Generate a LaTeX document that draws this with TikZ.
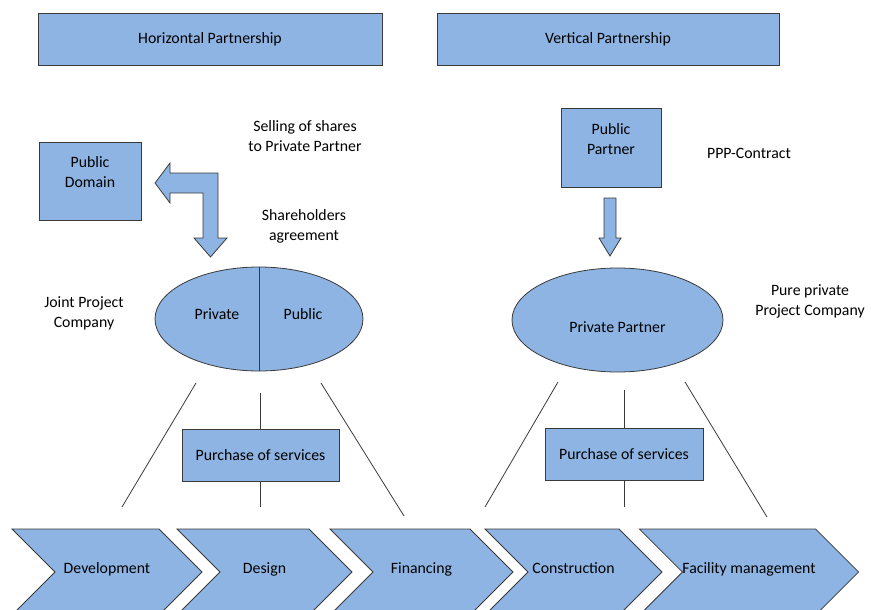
\documentclass[tikz,border=0pt]{standalone}
\usepackage{fontspec}
\setmainfont{Carlito}
\usepackage{tikz}
\usetikzlibrary{shapes.geometric,shapes.symbols}
\definecolor{boxblue}{HTML}{8DB4E2}
\definecolor{edgegray}{HTML}{3A3A3A}

\begin{document}
\begin{tikzpicture}[x=1pt, y=-1pt, font=\fontsize{15.8}{20}\selectfont]
        \tikzstyle{block}=[rectangle,draw=edgegray,fill=boxblue,line width=0.8pt,align=center,inner sep=0pt]
        \tikzstyle{oval}=[ellipse,draw=edgegray,fill=boxblue,line width=0.8pt,inner sep=0pt]
        \tikzstyle{stage}=[signal,signal from=west,signal to=east,signal pointer angle=90,draw=edgegray,fill=boxblue,line width=0.8pt,minimum height=86pt,inner sep=0pt,text depth=7.5pt]
        \tikzstyle{caption}=[align=center,inner sep=0pt]
        \tikzstyle{blockarrow}=[draw=edgegray,fill=boxblue,line width=0.8pt,line join=miter]
        \tikzstyle{link}=[draw=edgegray,line width=0.8pt]

        \clip (0,0) rectangle (871,610);

        % Draw the two headings
        \node[block, minimum width=344pt, minimum height=52pt] (horiz) at (210,39) {Horizontal Partnership};
        \node[block, minimum width=342pt, minimum height=52pt] (vert) at (608,39) {Vertical Partnership};

        % Draw the horizontal partnership side
        \node[block, minimum width=102pt, minimum height=78pt] (domain) at (90,181) {};
        \node[caption] (domain-text) at ([yshift=9pt]domain.center) {Public\\Domain};
        \node[caption] (selling) at (305,136) {Selling of shares\\to Private Partner};
        \node[caption] (holders) at (304,226) {Shareholders\\agreement};
        \node[caption] (joint) at (84,313) {Joint Project\\Company};
        \draw[blockarrow] (155,183) -- (170,163) -- (170,173) -- (218,173) -- (218,238) -- (227,238)
            -- (210.5,257) -- (194,238) -- (203,238) -- (203,193) -- (170,193) -- (170,203) -- cycle;
        \node[oval, minimum width=208pt, minimum height=104pt] (jpc) at (259,319) {};
        \draw[link] (jpc.north) -- (jpc.south);
        \node[caption] (jpc-priv) at (217,314) {Private};
        \node[caption] (jpc-pub) at (303,314) {Public};

        % Draw the vertical partnership side
        \node[block, minimum width=100pt, minimum height=79pt] (partner) at (611,148) {};
        \node[caption] (partner-text) at ([yshift=9pt]partner.center) {Public\\Partner};
        \node[caption] (ppp) at (749,153) {PPP-Contract};
        \node[caption] (pure) at (810,301) {Pure private\\Project Company};
        \draw[blockarrow] (604,198) -- (616,198) -- (616,238) -- (621,238) -- (610,256) -- (599,238) -- (604,238) -- cycle;
        \node[oval, minimum width=211pt, minimum height=104pt] (ppc) at (617.5,320) {};
        \node[caption] (ppc-text) at (617.5,327) {Private Partner};

        % Draw the value chain
        \foreach \name / \x / \w / \txt in {dev/107/190/Development, des/264.5/175/Design,
                fin/421.5/183/Financing, con/573.5/177/Construction, fac/749/218/Facility management}
            \node[stage, minimum width=\w pt] (\name) at (\x,572) {\txt};

        % Purchase boxes
        \node[block, minimum width=157pt, minimum height=52pt] (hbuy) at (260.5,455) {Purchase of services};
        \node[block, minimum width=158pt, minimum height=52pt] (vbuy) at (624,454) {Purchase of services};

        % Connect the companies with the purchase boxes and the chain
        \draw[link, shorten <=22pt] (hbuy.north |- jpc.south) -- (hbuy.north);
        \draw[link, shorten >=22pt] (hbuy.south) -- (hbuy.south |- dev.north);
        \draw[link, shorten <=18pt] (vbuy.north |- ppc.south) -- (vbuy.north);
        \draw[link, shorten >=22pt] (vbuy.south) -- (vbuy.south |- con.north);

        \coordinate (hl-top) at (196,383);
        \coordinate (hl-bot) at (122,507);
        \coordinate (hr-top) at (321,383);
        \coordinate (hr-bot) at (404,516);
        \coordinate (vl-top) at (558,382);
        \coordinate (vl-bot) at (485,507);
        \coordinate (vr-top) at (685,382);
        \coordinate (vr-bot) at (767,517);
        \foreach \side in {hl,hr,vl,vr}
            \draw[link] (\side-top) -- (\side-bot);
\end{tikzpicture}
\end{document}
